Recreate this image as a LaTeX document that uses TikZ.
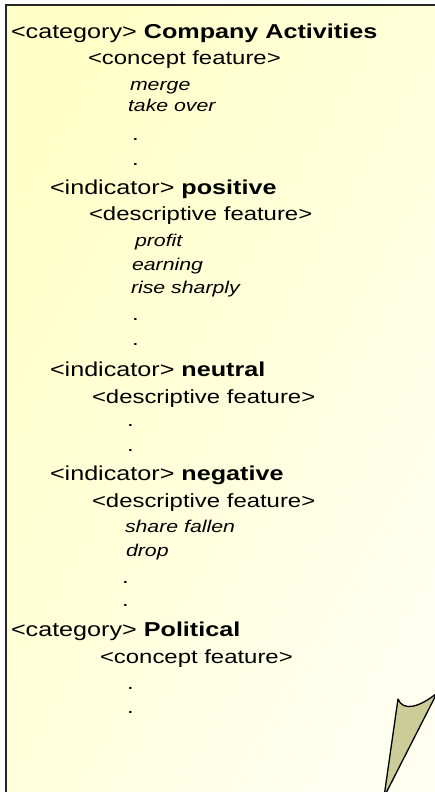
\documentclass[tikz,border=0pt]{standalone}
\usepackage{fontspec}
\setmainfont{Liberation Sans}[FakeStretch=1.25]
\definecolor{paperA}{RGB}{255,255,200}
\definecolor{paperB}{RGB}{255,255,240}
\definecolor{tailfill}{RGB}{204,204,153}
\begin{document}
\begin{tikzpicture}[x=1bp,y=-1bp,
  every node/.style={anchor=base west,inner sep=0pt,outer sep=0pt},
  headline/.style={font=\fontsize{20.2}{22}\selectfont},
  featline/.style={font=\fontsize{19.2}{21}\selectfont},
  itemline/.style={font=\fontsize{17.1}{19}\selectfont\itshape},
  dotline/.style={font=\fontsize{19.2}{21}\selectfont}]
\useasboundingbox (0,0) rectangle (435,792);
\fill[white] (0,0) rectangle (435,792);
% note card
\begin{scope}
\clip (0,0) rectangle (435,792);
\shade[top color=paperA,bottom color=paperB,shading angle=60]
  (6,5) rectangle (445,805);
\draw[line width=2bp,black!85] (6,805) -- (6,5) -- (445,5);
% callout tail
\draw[fill=tailfill,line width=1.3bp,line join=round]
  (398,699) .. controls (403,712) and (420,707) .. (437,693)
  -- (384,797) -- cycle;
\end{scope}
% text
\node[headline] (catA) at (11,39) {<category> \textbf{Company Activities}};
\node[featline] (cfA) at (88,65) {<concept feature>};
\node[itemline] (merge) at (130,90) {merge};
\node[itemline] (takeover) at (128,111) {take over};
\node[dotline] (dA1) at (132,140) {.};
\node[dotline] (dA2) at (132,165) {.};
\node[headline] (indPos) at (50,194) {<indicator> \textbf{positive}};
\node[featline] (dfPos) at (89,220) {<descriptive feature>};
\node[itemline] (profit) at (135,246) {profit};
\node[itemline] (earning) at (132,270) {earning};
\node[itemline] (rise) at (131,293) {rise sharply};
\node[dotline] (dB1) at (132,320) {.};
\node[dotline] (dB2) at (132,345) {.};
\node[headline] (indNeu) at (50,376) {<indicator> \textbf{neutral}};
\node[featline] (dfNeu) at (92,403) {<descriptive feature>};
\node[dotline] (dC1) at (127,426) {.};
\node[dotline] (dC2) at (127,451) {.};
\node[headline] (indNeg) at (50,480) {<indicator> \textbf{negative}};
\node[featline] (dfNeg) at (92,507) {<descriptive feature>};
\node[itemline] (share) at (125,532) {share fallen};
\node[itemline] (drop) at (126,556) {drop};
\node[dotline] (dD1) at (122,583) {.};
\node[dotline] (dD2) at (122,606) {.};
\node[headline] (catB) at (11,636) {<category> \textbf{Political}};
\node[featline] (cfB) at (100,663) {<concept feature>};
\node[dotline] (dE1) at (127,689) {.};
\node[dotline] (dE2) at (127,713) {.};
\end{tikzpicture}
\end{document}
